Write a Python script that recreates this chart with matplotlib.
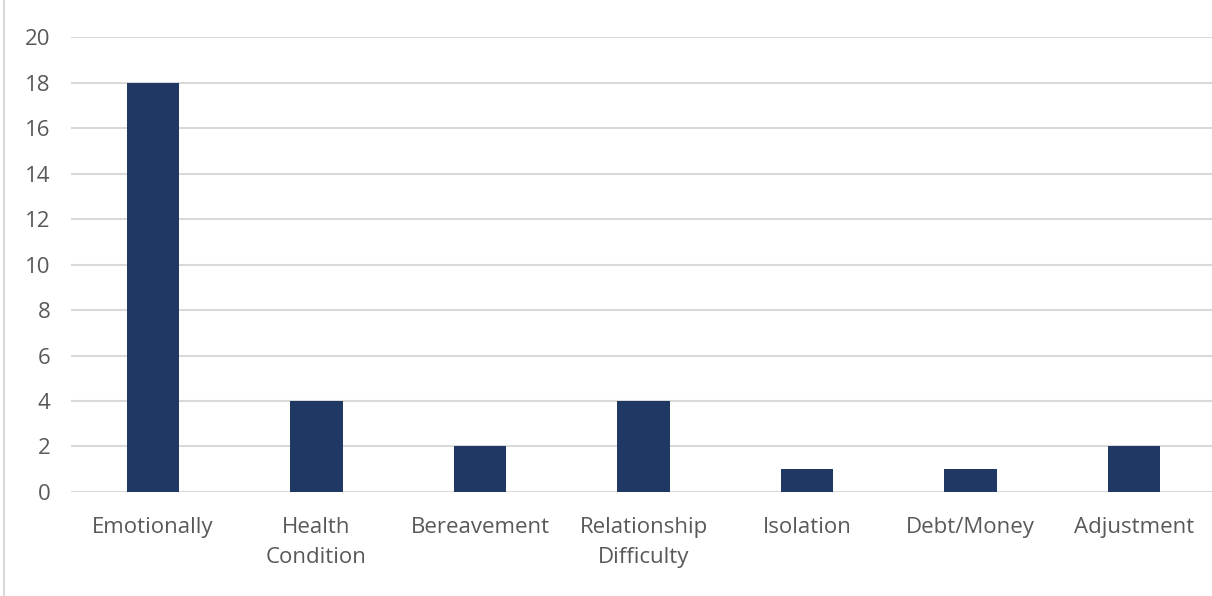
import matplotlib
matplotlib.use("Agg")
import matplotlib.pyplot as plt
from matplotlib.lines import Line2D

plt.rcParams["font.family"] = ["Open Sans", "DejaVu Sans"]

categories = ["Emotionally", "Health\nCondition", "Bereavement", "Relationship\nDifficulty",
              "Isolation", "Debt/Money", "Adjustment"]
counts = [18, 4, 2, 4, 1, 1, 2]
yticks = [0, 2, 4, 6, 8, 10, 12, 14, 16, 18, 20]


def main():
    fig = plt.figure(figsize=(12.12, 5.96), dpi=100)
    fig.patch.set_facecolor("white")

    ax = fig.add_axes([0.0586, 0.1745, 0.9447, 0.7634])
    x = list(range(len(categories)))
    ax.bar(x, counts, width=0.32, color="#1f3864", edgecolor="none", zorder=2)

    ax.set_xlim(-0.5, len(categories) - 0.5)
    ax.set_ylim(0, 20)
    ax.set_yticks(yticks)
    ax.set_yticklabels([str(v) for v in yticks], fontsize=16, color="#595959")
    ax.set_xticks(x)
    ax.set_xticklabels(categories, fontsize=16, color="#595959", linespacing=1.55)
    ax.grid(axis="y", color="#d9d9d9", lw=1.5, zorder=0)
    ax.set_axisbelow(True)
    for sp in ax.spines.values():
        sp.set_visible(False)
    ax.tick_params(axis="y", length=0, pad=15)
    ax.tick_params(axis="x", length=0, pad=18)

    # thin frame edge on the left of the picture
    fig.lines.append(Line2D([0.003, 0.003], [0, 1], transform=fig.transFigure, color="#d9d9d9", lw=1.5))

    fig.savefig("out.png", dpi=100)


if __name__ == "__main__":
    main()
